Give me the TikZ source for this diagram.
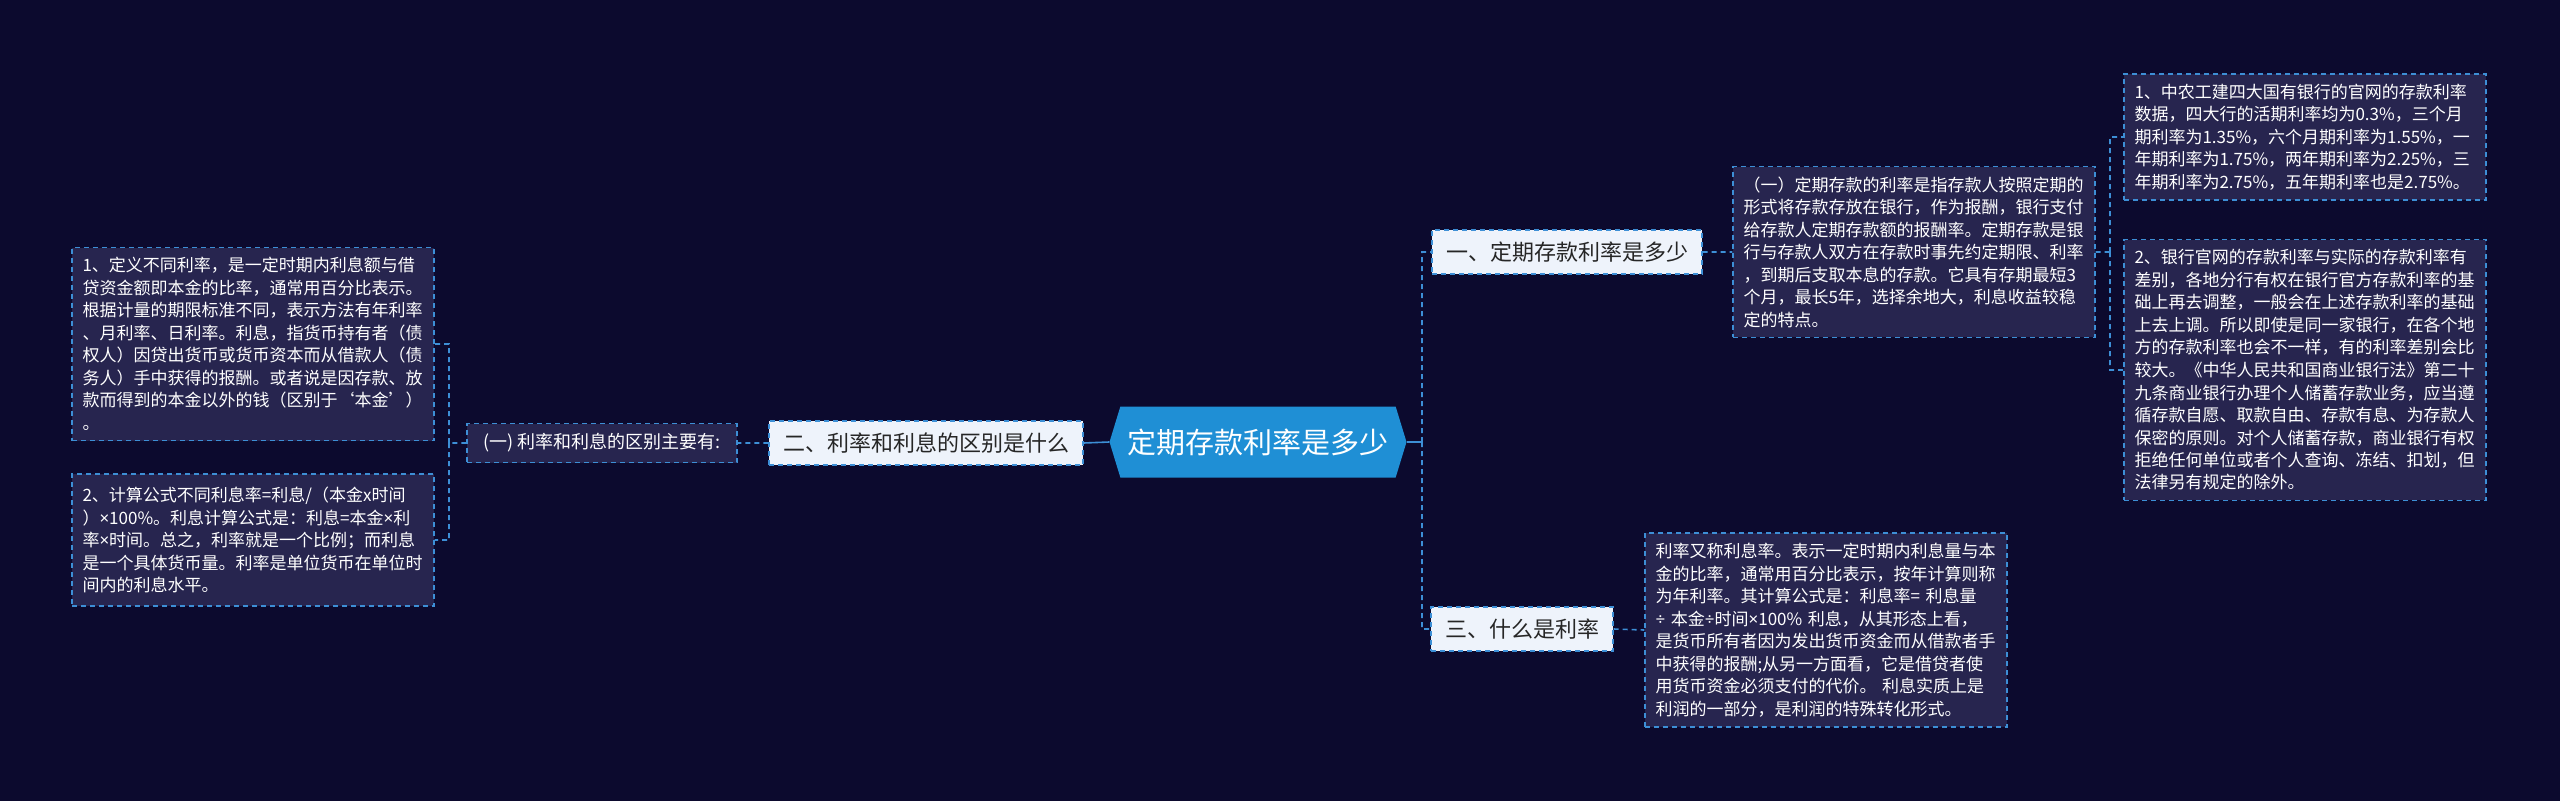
\documentclass[tikz,border=0pt]{standalone}
\usepackage{fontspec}
\setmainfont{Noto Sans CJK SC}
\newfontfamily\latinsym{Noto Sans}
\newcommand{\tms}{{\latinsym ×}}
\newcommand{\dvs}{{\latinsym ÷}}
\usetikzlibrary{shapes.symbols}

\definecolor{bgc}{HTML}{0C0A2E}
\definecolor{leafc}{HTML}{27254F}
\definecolor{linec}{HTML}{3D8FD6}
\definecolor{rootc}{HTML}{1F8FD5}
\definecolor{branchc}{HTML}{EEF3FB}

\begin{document}
\begin{tikzpicture}[x=1pt,y=-1pt,
    link/.style={draw=linec, line width=1.6pt, dash pattern=on 5pt off 4pt},
    leaf/.style={draw=linec, line width=1.3pt, dash pattern=on 5pt off 4pt,
        fill=leafc, text=white, text width=341pt, align=left,
        inner xsep=10.5pt, inner ysep=10pt, font=\fontsize{17}{22.5}\selectfont},
    branch/.style={draw=linec, line width=1.3pt, dash pattern=on 5pt off 4pt,
        fill=branchc, text=black!85, inner xsep=14pt, minimum height=44pt,
        font=\fontsize{22}{26}\selectfont}]
        \fill[bgc] (0,0) rectangle (2560,801);
        \useasboundingbox (0,0) rectangle (2560,801);

        \node[signal, signal to=west and east, signal pointer angle=146,
            fill=rootc, text=white, minimum width=297pt, minimum height=71pt,
            font=\fontsize{29}{33}\selectfont] at (1258,442)(root){定期存款利率是多少};

        \node[branch] at (1567,252)(b1){一、定期存款利率是多少};
        \node[branch] at (926,443)(b2){二、利率和利息的区别是什么};
        \node[branch] at (1522,629)(b3){三、什么是利率};

        \node[leaf] at (1914,252)(s1){（一）定期存款的利率是指存款人按照定期的\\
            形式将存款存放在银行，作为报酬，银行支付\\
            给存款人定期存款额的报酬率。定期存款是银\\
            行与存款人双方在存款时事先约定期限、利率\\
            ，到期后支取本息的存款。它具有存期最短3\\
            个月，最长5年，选择余地大，利息收益较稳\\
            定的特点。};
        \node[leaf] at (2305,137)(r1){1、中农工建四大国有银行的官网的存款利率\\
            数据，四大行的活期利率均为0.3\%，三个月\\
            期利率为1.35\%，六个月期利率为1.55\%，一\\
            年期利率为1.75\%，两年期利率为2.25\%，三\\
            年期利率为2.75\%，五年期利率也是2.75\%。};
        \node[leaf] at (2305,370)(r2){2、银行官网的存款利率与实际的存款利率有\\
            差别，各地分行有权在银行官方存款利率的基\\
            础上再去调整，一般会在上述存款利率的基础\\
            上去上调。所以即使是同一家银行，在各个地\\
            方的存款利率也会不一样，有的利率差别会比\\
            较大。《中华人民共和国商业银行法》第二十\\
            九条商业银行办理个人储蓄存款业务，应当遵\\
            循存款自愿、取款自由、存款有息、为存款人\\
            保密的原则。对个人储蓄存款，商业银行有权\\
            拒绝任何单位或者个人查询、冻结、扣划，但\\
            法律另有规定的除外。};
        \node[leaf] at (1826,630)(s3){利率又称利息率。表示一定时期内利息量与本\\
            金的比率，通常用百分比表示，按年计算则称\\
            为年利率。其计算公式是：利息率= 利息量\\
            \mbox{\dvs{} 本金\dvs{}时间\tms{}100\% 利息，从其形态上看，}\\
            是货币所有者因为发出货币资金而从借款者手\\
            中获得的报酬;从另一方面看，它是借贷者使\\
            用货币资金必须支付的代价。 利息实质上是\\
            利润的一部分，是利润的特殊转化形式。};

        \node[leaf, text width=, minimum width=270pt, minimum height=39pt,
            inner ysep=4pt, font=\fontsize{18}{22}\selectfont] at (602,443)(l1){(一) 利率和利息的区别主要有:};
        \node[leaf] at (253,344)(lb1){1、定义不同利率，是一定时期内利息额与借\\
            贷资金额即本金的比率，通常用百分比表示。\\
            根据计量的期限标准不同，表示方法有年利率\\
            、月利率、日利率。利息，指货币持有者（债\\
            权人）因贷出货币或货币资本而从借款人（债\\
            务人）手中获得的报酬。或者说是因存款、放\\
            款而得到的本金以外的钱（区别于‘本金’）\\
            。};
        \node[leaf, inner ysep=13pt] at (253,540)(lb2){2、计算公式不同利息率=利息/（本金x时间\\
            ）\tms{}100\%。利息计算公式是：利息=本金\tms{}利\\
            率\tms{}时间。总之，利率就是一个比例；而利息\\
            是一个具体货币量。利率是单位货币在单位时\\
            间内的利息水平。};

        \coordinate (jr) at (1422,442);
        \coordinate (js) at (2110,252);
        \coordinate (jl) at (449,443);

        \draw[draw=linec, line width=1.6pt] (root.east) -- (jr);
        \draw[draw=linec, line width=1.6pt] (root.west) -- (b2.east);
        \path[link]
        (jr) |- (b1.west)
        (jr) |- (b3.west)
        (b1.east) -- (s1.west)
        (s1.east) -- (js)
        (js) |- (r1.west)
        (js) |- (r2.west)
        (b3.east) -- (s3.west)
        (b2.west) -- (l1.east)
        (l1.west) -- (jl)
        (jl) |- (lb1.east)
        (jl) |- (lb2.east)
        ;
    \end{tikzpicture}
\end{document}
